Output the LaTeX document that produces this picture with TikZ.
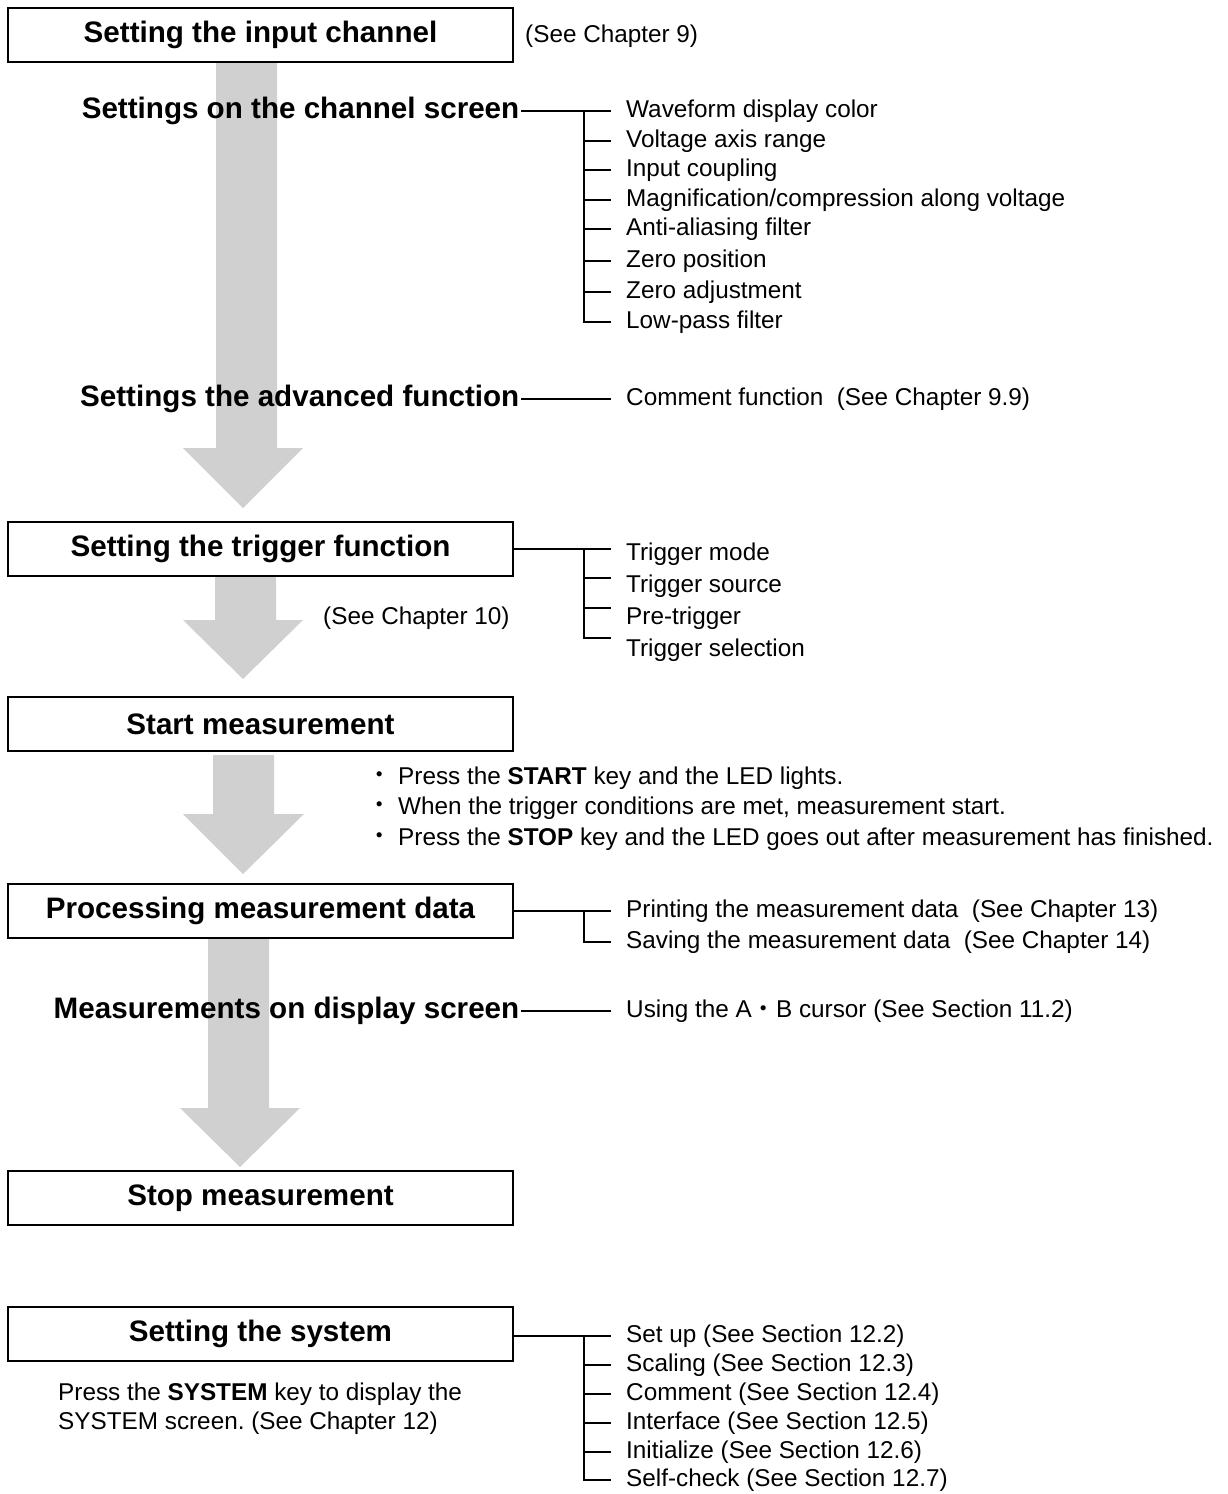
\documentclass[tikz,border=0pt]{standalone}
\usepackage{fontspec}
\setmainfont{Liberation Sans}
\newfontfamily\cjk{Noto Sans CJK JP}
\frenchspacing
\definecolor{arrowgray}{RGB}{208,208,208}
\newcommand\headfont{\fontsize{29.6}{34}\selectfont\bfseries}
\newcommand\itemfont{\fontsize{24.3}{29}\selectfont}
\tikzset{
  stage/.style={draw, line width=2.4pt, fill=white, minimum width=505pt,
    minimum height=54pt, inner sep=0pt, font=\headfont},
  head/.style={font=\headfont, inner sep=1.5pt, anchor=east},
  item/.style={font=\itemfont, anchor=west, inner sep=0pt},
  branch/.style={line width=2pt},
  flow/.style={fill=arrowgray, draw=none},
}
\begin{document}
\begin{tikzpicture}[x=1pt,y=-1pt]
\useasboundingbox (0,0) rectangle (1228,1494);

% gray flow arrows
\fill[flow] (216,62) -- (277,62) -- (277,448) -- (303,448) -- (243,508) -- (183,448) -- (216,448) -- cycle;
\fill[flow] (215,576) -- (276,576) -- (276,620) -- (303,620) -- (243,679) -- (183,620) -- (215,620) -- cycle;
\fill[flow] (213,755) -- (274,755) -- (274,814) -- (304,814) -- (243,874) -- (183,814) -- (213,814) -- cycle;
\fill[flow] (208,938) -- (269,938) -- (269,1108) -- (300,1108) -- (240,1167) -- (180,1108) -- (208,1108) -- cycle;

% stage boxes
\node[stage] (input) at (260.5,35) {Setting the input channel};
\node[stage] (trigger) at (260.5,549) {Setting the trigger function};
\node[stage] (start) at (260.5,724) {Start measurement};
\node[stage] (proc) at (260.5,911) {Processing measurement data};
\node[stage] (stop) at (260.5,1198) {Stop measurement};
\node[stage] (system) at (260.5,1334) {Setting the system};

% headings
\node[head] (chscr) at (521,111) {Settings on the channel screen};
\node[head] (adv) at (521,399) {Settings the advanced function};
\node[head] (disp) at (521,1011) {Measurements on display screen};

% chapter notes
\node[item] (ch9) at (525,36) {(See Chapter 9)};
\node[item] (ch10) at (323,618) {(See Chapter 10)};

% channel screen group
\node[item] (w1) at (626,111) {Waveform display color};
\node[item] (w2) at (626,141) {Voltage axis range};
\node[item] (w3) at (626,170) {Input coupling};
\node[item] (w4) at (626,200) {Magnification/compression along voltage};
\node[item] (w5) at (626,229) {Anti-aliasing filter};
\node[item] (w6) at (626,261) {Zero position};
\node[item] (w7) at (626,292) {Zero adjustment};
\node[item] (w8) at (626,322) {Low-pass filter};
\coordinate (wj) at (584,111);
\draw[branch] (chscr.east) -- ([xshift=-15pt]w1.west);
\draw[branch] (wj) |- ([xshift=-15pt]w8.west);
\foreach \k in {2,...,7}{\draw[branch] (wj |- w\k.west) -- ([xshift=-15pt]w\k.west);}

% advanced function
\node[item] (cm) at (626,399) {Comment function\ \ (See Chapter 9.9)};
\draw[branch] (adv.east) -- ([xshift=-15pt]cm.west);

% trigger group
\node[item] (t1) at (626,554) {Trigger mode};
\node[item] (t2) at (626,586) {Trigger source};
\node[item] (t3) at (626,618) {Pre-trigger};
\node[item] (t4) at (626,650) {Trigger selection};
\coordinate (tj) at (584,549);
\coordinate (te1) at (611,549);
\coordinate (te2) at (611,578);
\coordinate (te3) at (611,608);
\coordinate (te4) at (611,638);
\draw[branch] (trigger.east) -- (te1);
\draw[branch] (tj) |- (te4);
\draw[branch] (tj |- te2) -- (te2);
\draw[branch] (tj |- te3) -- (te3);

% start measurement notes
\node[item] (b1) at (398,778) {Press the \textbf{START} key and the LED lights.};
\node[item] (b2) at (398,808) {When the trigger conditions are met, measurement start.};
\node[item] (b3) at (398,839) {Press the \textbf{STOP} key and the LED goes out after measurement has finished.};
\node[item, anchor=center] (d1) at (380,778) {\cjk ・};
\node[item, anchor=center] (d2) at (380,808) {\cjk ・};
\node[item, anchor=center] (d3) at (380,839) {\cjk ・};

% processing group
\node[item] (pr1) at (626,911) {Printing the measurement data\ \ (See Chapter 13)};
\node[item] (pr2) at (626,942) {Saving the measurement data\ \ (See Chapter 14)};
\coordinate (pj) at (584,911);
\draw[branch] (proc.east) -- ([xshift=-15pt]pr1.west);
\draw[branch] (pj) |- ([xshift=-15pt]pr2.west);

% display screen
\node[item] (cur) at (626,1011) {Using the A{\cjk ・}B cursor (See Section 11.2)};
\draw[branch] (disp.east) -- ([xshift=-15pt]cur.west);

% system group
\node[item] (p1) at (58,1394) {Press the \textbf{SYSTEM} key to display the};
\node[item] (p2) at (58,1423) {SYSTEM screen. (See Chapter 12)};
\node[item] (s1) at (626,1336) {Set up (See Section 12.2)};
\node[item] (s2) at (626,1365) {Scaling (See Section 12.3)};
\node[item] (s3) at (626,1394) {Comment (See Section 12.4)};
\node[item] (s4) at (626,1423) {Interface (See Section 12.5)};
\node[item] (s5) at (626,1452) {Initialize (See Section 12.6)};
\node[item] (s6) at (626,1480) {Self-check (See Section 12.7)};
\coordinate (sj) at (584,1336);
\draw[branch] (system.east |- s1.west) -- ([xshift=-15pt]s1.west);
\draw[branch] (sj) |- ([xshift=-15pt]s6.west);
\foreach \k in {2,...,5}{\draw[branch] (sj |- s\k.west) -- ([xshift=-15pt]s\k.west);}
\end{tikzpicture}
\end{document}
